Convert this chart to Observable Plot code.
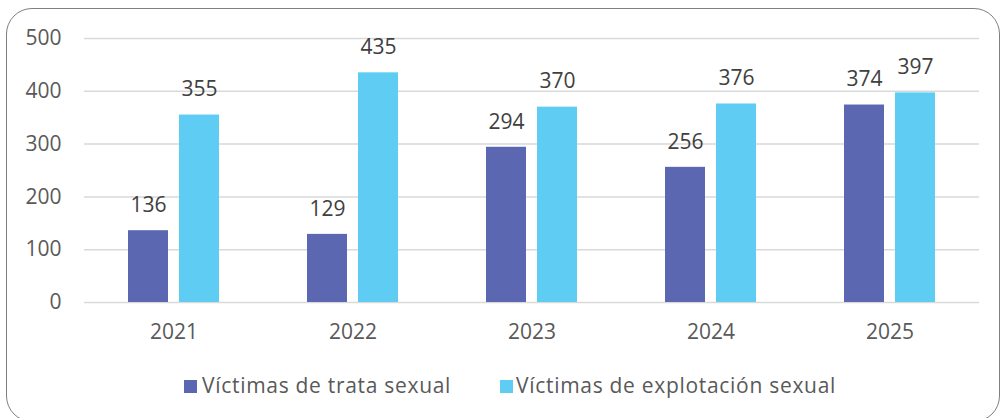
<!DOCTYPE html>
<html><head><meta charset="utf-8">
<script src="https://cdn.jsdelivr.net/npm/d3@7"></script>
<script src="https://cdn.jsdelivr.net/npm/@observablehq/plot@0.6"></script>
<style>
body{margin:0;background:#fff;font-family:"Open Sans",sans-serif;}
#wrap{position:relative;width:1001px;height:418px;overflow:hidden;}
#frame{position:absolute;left:6px;top:8px;width:994px;height:414px;border:1.5px solid #7f7f7f;border-radius:26px;box-sizing:border-box;}
#chart{position:absolute;left:0;top:0;}
#legend{position:absolute;left:0;top:0;width:1001px;height:418px;font-family:"Open Sans",sans-serif;font-size:21px;color:#595959;}
.sw{position:absolute;width:13px;height:13px;top:380px;}
.lt{position:absolute;top:371px;line-height:28px;white-space:nowrap;letter-spacing:0.7px;}
</style></head><body>
<div id="wrap"><div id="chart"></div><div id="frame"></div><div id="legend"></div></div>
<script>
const years = ["2021","2022","2023","2024","2025"];
const trata = [136,129,294,256,374];
const explotacion = [355,435,370,376,397];
const seriesNames = ["Víctimas de trata sexual","Víctimas de explotación sexual"];
const colors = ["#5B67B1","#5ECCF3"];
const yTicks = [0,100,200,300,400,500];

const dA = years.map((y,i)=>({year:y,value:trata[i]}));
const dB = years.map((y,i)=>({year:y,value:explotacion[i]}));

const plot = Plot.plot({
  width:1001, height:350,
  marginTop:38, marginBottom:48, marginLeft:84, marginRight:22,
  style:{fontFamily:"Open Sans, sans-serif", color:"#595959", background:"transparent"},
  x:{domain:years, padding:0, label:null},
  y:{domain:[0,500], label:null},
  marks:[
    Plot.gridY(yTicks,{stroke:"#d9d9d9", strokeOpacity:1, strokeWidth:1.5}),
    Plot.barY(dA,{x:"year", y:"value", fill:colors[0], insetLeft:44, insetRight:95}),
    Plot.barY(dB,{x:"year", y:"value", fill:colors[1], insetLeft:95, insetRight:44}),
    Plot.axisY({ticks:yTicks, tickSize:0, tickPadding:23, fontSize:21, fill:"#595959", label:null}),
    Plot.axisX({tickSize:0, tickPadding:22, fontSize:21, fill:"#595959", label:null}),
    Plot.text(dA,{x:"year", y:"value", text:d=>String(d.value), dx:-25.5, dy:-25.5, fill:"#404040", fontSize:21}),
    Plot.text(dB,{x:"year", y:"value", text:d=>String(d.value), dx:25.5, dy:-25.5, fill:"#404040", fontSize:21}),
  ]
});
document.getElementById("chart").appendChild(plot);

const leg = document.getElementById("legend");
const swLeft = [184, 500];
const txtLeft = [202, 516];
seriesNames.forEach((n,i)=>{
  const sw = document.createElement("div"); sw.className="sw"; sw.style.left=swLeft[i]+"px"; sw.style.background=colors[i];
  const t = document.createElement("div"); t.className="lt"; t.style.left=txtLeft[i]+"px"; t.textContent=n;
  leg.appendChild(sw); leg.appendChild(t);
});
</script></body></html>
